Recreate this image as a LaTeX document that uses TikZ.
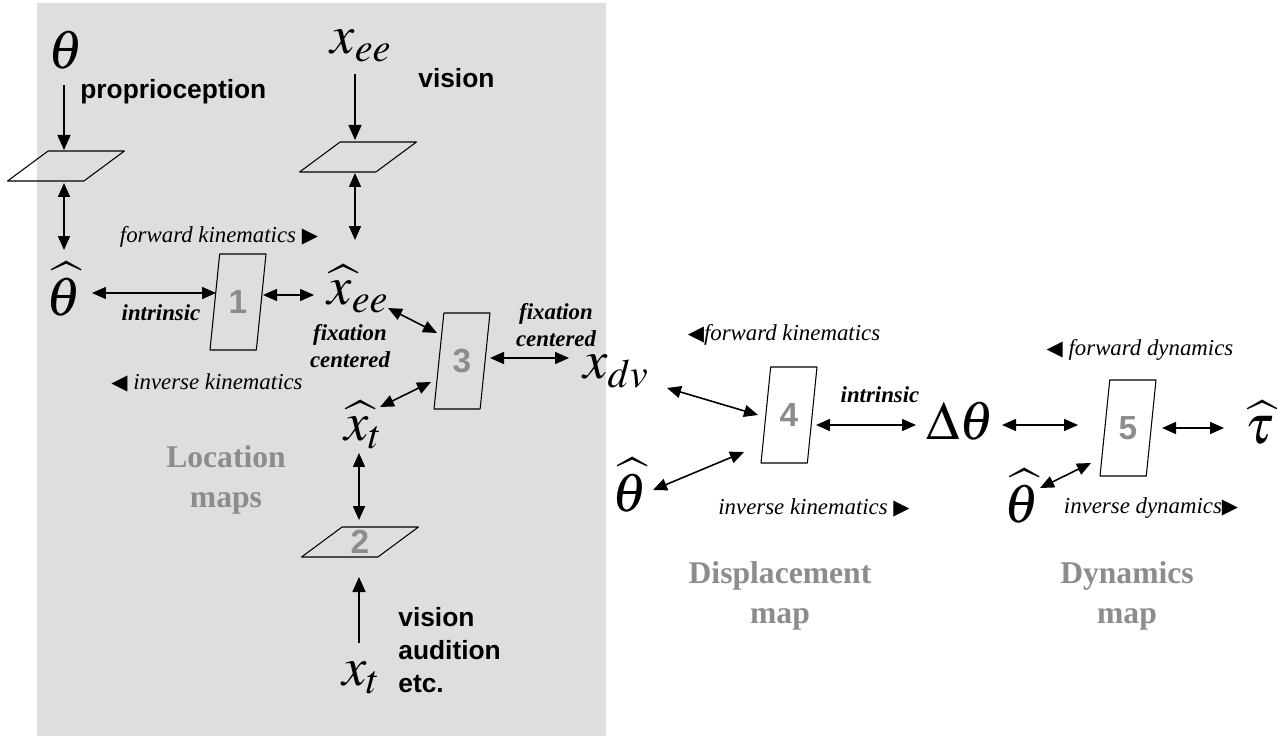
\documentclass[tikz,border=0pt]{standalone}
\usepackage{mathptmx}
\usepackage{fontspec}
\setmainfont{Liberation Serif}
\newfontfamily\labelfont{Liberation Sans}
\newfontfamily\tipfont{DejaVu Sans}
\usetikzlibrary{arrows.meta,shapes.geometric}
\definecolor{panelgray}{HTML}{DEDEDE}
\definecolor{mapgray}{HTML}{8C8C8C}
\newcommand{\rtri}{{\tipfont\fontsize{12}{12}\selectfont ▶}}
\newcommand{\ltri}{{\tipfont\fontsize{12}{12}\selectfont ◀}}

\begin{document}
\begin{tikzpicture}[x=0.02cm, y=-0.02cm, line join=round,
  sym/.style={font=\fontsize{31}{36}\selectfont, inner sep=1pt},
  sense/.style={font=\labelfont\bfseries\fontsize{15}{18.7}\selectfont, align=left, inner sep=0pt},
  note/.style={font=\itshape\fontsize{13}{15}\selectfont, inner sep=0pt},
  tag/.style={font=\bfseries\itshape\fontsize{13}{15.3}\selectfont, align=center, inner sep=0pt},
  mapname/.style={font=\bfseries\fontsize{18}{22.7}\selectfont, text=mapgray, align=center, inner sep=0pt},
  flat/.style={draw, line width=0.6pt, trapezium, trapezium stretches=true,
    trapezium left angle=48, trapezium right angle=132,
    minimum width=2.34cm, minimum height=0.6cm, inner sep=0pt,
    font=\labelfont\bfseries\fontsize{19}{20}\selectfont, text=mapgray},
  tall/.style={draw, line width=0.6pt, trapezium, trapezium stretches=true,
    trapezium left angle=78, trapezium right angle=102,
    minimum width=1.12cm, minimum height=1.92cm, inner sep=0pt,
    font=\labelfont\bfseries\fontsize{19}{20}\selectfont, text=mapgray},
  dbl/.style={{Triangle[length=0.28cm,width=0.24cm]}-{Triangle[length=0.28cm,width=0.24cm]}, line width=0.9pt},
  sgl/.style={-{Triangle[length=0.3cm,width=0.26cm]}, line width=0.9pt}]
\useasboundingbox (0,0) rectangle (1277,736);
\fill[panelgray] (37,3) rectangle (606,736);

% location maps
\node[sym] (th) at (66,50) {$\theta$};
\node[sym] (thh) at (64,289) {$\widehat{\theta}$};
\node[sym] (xee) at (361,46) {$x_{ee}$};
\node[sym] (xeeh) at (358,289) {$\widehat{x}_{ee}$};
\node[sym] (xth) at (363,425) {$\widehat{x}_{t}$};
\node[sym] (xt) at (361,678) {$x_{t}$};
\node[sym] (xdv) at (616,372) {$x_{dv}$};

\node[flat] (parL) at (66,166) {\phantom{2}};
\node[flat] (parV) at (358,157) {\phantom{2}};
\node[flat] (par2) at (360,542) {2};
\node[tall] (box1) at (238,302) {1};
\node[tall] (box3) at (462,361) {3};

\node[sense, anchor=west] (propr) at (80,92) {proprioception};
\node[sense, anchor=west] (vis) at (418,78) {vision};
\node[sense, anchor=west] (visaud) at (398,650) {vision\\audition\\etc.};
\node[note] (fk1) at (219,237) {forward kinematics \rtri};
\node[note] (ik1) at (207,383) {\ltri\ inverse kinematics};
\node[tag] (intr1) at (161,313) {intrinsic};
\node[tag] (fix1) at (350,346) {fixation\\centered};
\node[tag] (fix2) at (556,325) {fixation\\centered};
\node[mapname] (locmap) at (226,480) {Location\\maps};

\draw[sgl] ([shift={(-2,35)}]th.center) -- ([shift={(-2,-16)}]parL.center);
\draw[dbl] ([shift={(-2,17)}]parL.center) -- ([shift={(0,-39)}]thh.center);
\draw[sgl] ([shift={(-6,28)}]xee.center) -- ([shift={(-3,-17)}]parV.center);
\draw[dbl] ([shift={(-3,16)}]parV.center) -- ([shift={(-3,-49)}]xeeh.center);
\draw[dbl] ([shift={(28,4)}]thh.center) -- ([shift={(-22,-9)}]box1.center);
\draw[dbl] ([shift={(25,-7)}]box1.center) -- ([shift={(-44,6)}]xeeh.center);
\draw[dbl] ([shift={(30,19)}]xeeh.center) -- ([shift={(-25,-28)}]box3.center);
\draw[dbl] ([shift={(28,-3)}]box3.center) -- ([shift={(-47,-14)}]xdv.center);
\draw[dbl] ([shift={(-31,21)}]box3.center) -- ([shift={(17,-18)}]xth.center);
\draw[dbl] ([shift={(-4,28)}]xth.center) -- ([shift={(-1,-22)}]par2.center);
\draw[sgl] ([shift={(-2,-35)}]xt.center) -- ([shift={(-1,35)}]par2.center);

% displacement map
\node[sym] (thh2) at (630,485) {$\widehat{\theta}$};
\node[sym] (dth) at (960,421) {$\Delta\theta$};
\node[tall] (box4) at (789,415) {4};
\node[note] (fk2) at (784,335) {\ltri forward kinematics};
\node[note] (ik2) at (814,508) {inverse kinematics \rtri};
\node[tag] (intr2) at (880,395) {intrinsic};
\node[mapname] (dispmap) at (780,596) {Displacement\\map};

\draw[dbl] ([shift={(51,16)}]xdv.center) -- ([shift={(-31,0)}]box4.center);
\draw[dbl] ([shift={(23,5)}]thh2.center) -- ([shift={(-45,37)}]box4.center);
\draw[dbl] ([shift={(27,10)}]box4.center) -- ([shift={(-44,4)}]dth.center);

% dynamics map
\node[sym] (thh3) at (1022,496) {$\widehat{\theta}$};
\node[sym] (tauh) at (1260,423) {$\widehat{\tau}$};
\node[tall] (box5) at (1128,428) {5};
\node[note] (fd) at (1140,350) {\ltri\ forward dynamics};
\node[note] (id) at (1151,508) {inverse dynamics\rtri};
\node[mapname] (dynmap) at (1127,596) {Dynamics\\map};

\draw[dbl] ([shift={(42,4)}]dth.center) -- ([shift={(-50,-3)}]box5.center);
\draw[dbl] ([shift={(34,0)}]box5.center) -- ([shift={(-36,5)}]tauh.center);
\draw[dbl] ([shift={(18,-8)}]thh3.center) -- ([shift={(-37,35)}]box5.center);
\end{tikzpicture}
\end{document}
